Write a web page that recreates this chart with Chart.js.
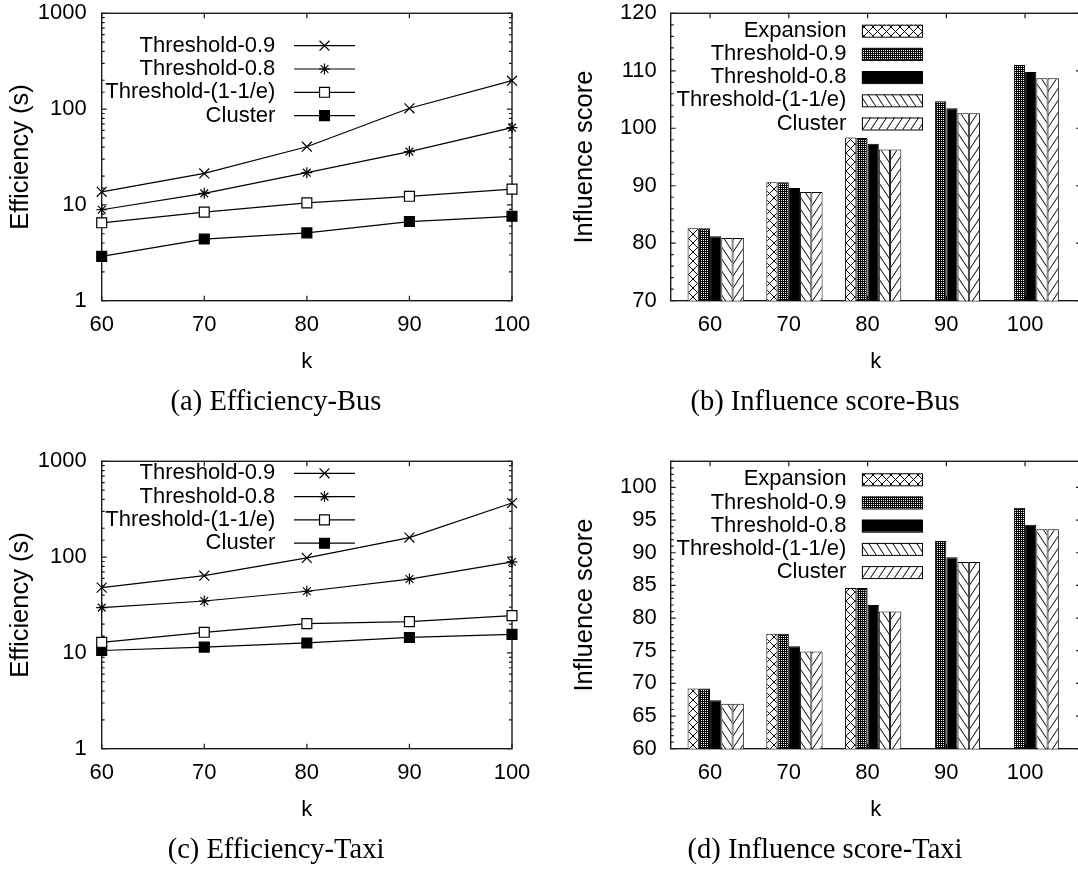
<!DOCTYPE html>
<html>
<head>
<meta charset="utf-8">
<title>Efficiency and influence score</title>
<script src="https://cdn.jsdelivr.net/npm/chart.js@4.4.1/dist/chart.umd.min.js"></script>
<style>
  html, body { margin: 0; padding: 0; background: #fff; overflow: hidden; }
  body { width: 1078px; height: 871px; position: relative; }
  .panel { position: absolute; width: 552px; height: 430px; }
  .panel canvas { display: block; }
  #pa { left: 0; top: 0; }
  #pb { left: 549px; top: 0; }
  #pc { left: 0; top: 448px; }
  #pd { left: 549px; top: 448px; }
</style>
</head>
<body>
<div class="panel" id="pa"><canvas id="effBus" width="552" height="430"></canvas></div>
<div class="panel" id="pb"><canvas id="infBus" width="552" height="430"></canvas></div>
<div class="panel" id="pc"><canvas id="effTaxi" width="552" height="430"></canvas></div>
<div class="panel" id="pd"><canvas id="infTaxi" width="552" height="430"></canvas></div>
<script>
// ---------- data ----------
const kValues = [60, 70, 80, 90, 100]

const lineSeries = ['Threshold-0.9', 'Threshold-0.8', 'Threshold-(1-1/e)', 'Cluster']
const barSeries = ['Expansion', 'Threshold-0.9', 'Threshold-0.8', 'Threshold-(1-1/e)', 'Cluster']

// running time in seconds, Bus
const busT09 = [13.7, 21.3, 40.5, 102, 198]
const busT08 = [8.9, 13.2, 21.7, 36, 64]
const busTe = [6.5, 8.4, 10.5, 12.3, 14.6]
const busCluster = [2.9, 4.4, 5.1, 6.7, 7.6]

// running time in seconds, Taxi
const taxiT09 = [48, 64, 98, 160, 367]
const taxiT08 = [29.7, 34.8, 44, 59, 89]
const taxiTe = [12.9, 16.4, 20.2, 21.2, 24.5]
const taxiCluster = [10.6, 11.5, 12.7, 14.5, 15.6]

// influence score, Bus (Expansion gives no result for k = 90, 100)
const busInfExp = [82.6, 90.6, 98.4, null, null]
const busInfT09 = [82.6, 90.6, 98.3, 104.7, 111.0]
const busInfT08 = [81.2, 89.6, 97.3, 103.5, 109.8]
const busInfTe = [80.9, 88.9, 96.3, 102.6, 108.7]
const busInfCluster = [80.9, 88.9, 96.3, 102.6, 108.7]

// influence score, Taxi
const taxiInfExp = [69.2, 77.6, 84.6, null, null]
const taxiInfT09 = [69.2, 77.6, 84.6, 91.8, 96.9]
const taxiInfT08 = [67.4, 75.7, 82.0, 89.3, 94.3]
const taxiInfTe = [66.9, 74.9, 81.0, 88.6, 93.6]
const taxiInfCluster = [66.9, 74.9, 81.0, 88.6, 93.6]

// labelled ticks
const effTicks = [1, 10, 100, 1000]
const busInfTicks = [70, 80, 90, 100, 110, 120]
const taxiInfTicks = [60, 65, 70, 75, 80, 85, 90, 95, 100]

// ---------- styling ----------
Chart.defaults.font.family = '"Liberation Sans", Arial, sans-serif'
Chart.defaults.font.size = 22
Chart.defaults.color = '#000'

const SANS = { family: '"Liberation Sans", Arial, sans-serif', size: 22 }
const TICK = { family: '"Liberation Sans", Arial, sans-serif', size: 22, lineHeight: 1.1 }
const YTITLE = { family: '"Liberation Sans", Arial, sans-serif', size: 25.5 }
const SERIF = '28.5px "Liberation Serif", "Times New Roman", serif'

// hatch fills, gnuplot style
function hatch(w, h, draw) {
  const c = document.createElement('canvas')
  c.width = w; c.height = h
  const g = c.getContext('2d')
  g.fillStyle = '#fff'; g.fillRect(0, 0, w, h)
  g.strokeStyle = '#000'; g.fillStyle = '#000'; g.lineWidth = 1
  draw(g, w, h)
  return g.createPattern(c, 'repeat')
}
const back = (g, w, h) => { for (const dx of [-w, 0, w]) { g.beginPath(); g.moveTo(dx, 0); g.lineTo(dx + w, h); g.stroke() } }
const fwd = (g, w, h) => { for (const dx of [-w, 0, w]) { g.beginPath(); g.moveTo(dx, h); g.lineTo(dx + w, 0); g.stroke() } }

const barFills = [
  hatch(9, 9, (g, w, h) => { back(g, w, h); fwd(g, w, h) }),               // crosshatch
  hatch(2, 2, (g) => { g.fillRect(0, 0, 2, 2); g.clearRect(0, 0, 1, 1) }),  // fine crosshatch
  '#000',
  hatch(8, 12, back),
  hatch(8, 12, fwd),
]

const pointStyles = [
  { style: 'crossRot', r: 7, fill: '#000' },
  { style: 'star', r: 5.5, fill: '#000' },
  { style: 'rect', r: 7, fill: '#fff' },
  { style: 'rect', r: 7, fill: '#000' },
]

// border box with inward ticks on all four sides, plus key and caption
const gnuFrame = {
  id: 'gnuFrame',
  beforeDatasetsDraw(chart) {
    const { ctx, chartArea: a, scales: { x, y } } = chart
    ctx.save()
    ctx.strokeStyle = '#1a1a1a'
    ctx.lineWidth = 1.2
    ctx.beginPath()
    y.ticks.forEach(t => {
      const py = y.getPixelForValue(t.value)
      const len = t.label ? 5 : 3
      ctx.moveTo(a.left, py); ctx.lineTo(a.left + len, py)
      ctx.moveTo(a.right, py); ctx.lineTo(a.right - len, py)
    })
    x.ticks.forEach(t => {
      const px = x.getPixelForValue(t.value)
      ctx.moveTo(px, a.bottom); ctx.lineTo(px, a.bottom - 5)
      ctx.moveTo(px, a.top); ctx.lineTo(px, a.top + 5)
    })
    ctx.stroke()
    ctx.lineWidth = 1.4
    ctx.strokeRect(a.left, a.top, a.right - a.left, a.bottom - a.top)
    ctx.restore()
  },
  afterDraw(chart, args, opts) {
    const { ctx } = chart
    ctx.save()
    ctx.font = '22px "Liberation Sans", Arial, sans-serif'
    ctx.textBaseline = 'middle'
    ctx.fillStyle = '#000'
    ctx.strokeStyle = '#000'
    const sets = chart.data.datasets.filter(d => d.label)
    sets.forEach((d, i) => {
      const yy = opts.top + i * opts.step
      ctx.textAlign = 'right'
      ctx.fillText(d.label, opts.textRight, yy)
      if (opts.kind === 'line') {
        ctx.lineWidth = 1.2
        ctx.beginPath(); ctx.moveTo(opts.x0, yy); ctx.lineTo(opts.x1, yy); ctx.stroke()
        ctx.fillStyle = d.pointBackgroundColor
        Chart.helpers.drawPoint(ctx, { pointStyle: d.pointStyle, radius: d.pointRadius, rotation: 0, borderWidth: 1.2 }, (opts.x0 + opts.x1) / 2, yy)
        ctx.fillStyle = '#000'
      } else {
        ctx.fillStyle = d.backgroundColor
        ctx.fillRect(opts.x0, yy - 6, opts.x1 - opts.x0, 12)
        ctx.lineWidth = 1
        ctx.strokeRect(opts.x0 + 0.5, yy - 6 + 0.5, opts.x1 - opts.x0, 12)
        ctx.fillStyle = '#000'
      }
    })
    // sub-figure caption
    ctx.font = SERIF
    ctx.textAlign = 'center'
    ctx.fillText(opts.caption, chart.width / 2, opts.captionY)
    ctx.restore()
  },
}

// tick marks are drawn by gnuFrame; tickLength here only spaces the labels off the axis
const yGrid = gap => ({ display: false, drawTicks: true, tickLength: gap })
const xGrid = { display: false, drawTicks: false, offset: false }

function effChart(id, series, caption, keyTop) {
  return new Chart(document.getElementById(id), {
    type: 'line',
    plugins: [gnuFrame],
    data: {
      datasets: series.map((vals, i) => ({
        label: lineSeries[i],
        data: kValues.map((k, j) => ({ x: k, y: vals[j] })),
        borderColor: '#000',
        borderWidth: 1.2,
        pointStyle: pointStyles[i].style,
        pointRadius: pointStyles[i].r,
        pointBackgroundColor: pointStyles[i].fill,
        pointBorderColor: '#000',
        pointBorderWidth: 1.2,
        tension: 0,
        clip: false,
      })),
    },
    options: {
      responsive: false,
      animation: false,
      events: [],
      layout: { padding: { top: 13.3, right: 40, bottom: 43.6, left: 0 } },
      plugins: {
        legend: { display: false },
        tooltip: { enabled: false },
        gnuFrame: { kind: 'line', textRight: 275.3, x0: 294, x1: 355, top: keyTop, step: 23.3, caption, captionY: 403 },
      },
      scales: {
        x: {
          type: 'linear', min: 60, max: 100,
          ticks: { stepSize: 10, padding: 12, font: TICK },
          grid: xGrid, border: { display: false },
          title: { display: true, text: 'k', font: SANS, padding: { top: 0, bottom: 11 } },
          afterFit: s => { s.height = 85.7 },
        },
        y: {
          type: 'logarithmic', min: 1, max: 1000,
          ticks: {
            autoSkip: false, padding: 0, font: TICK,
            callback: v => effTicks.some(t => Math.abs(t - v) < 1e-9) ? String(v) : '',
          },
          grid: yGrid(15), border: { display: false },
          title: { display: true, text: 'Efficiency (s)', font: YTITLE, padding: { top: 6, bottom: 0 } },
          afterFit: s => { s.width = 101.7 },
        },
      },
    },
  })
}

function infChart(id, series, caption, yMin, yMax, minorStep, labelTicks, keyTop) {
  const datasets = [
    // empty leading slot so each k tick falls between the 2nd and 3rd bar
    { label: '', data: kValues.map(k => ({ x: k, y: null })) },
    ...series.map((vals, i) => ({
      label: barSeries[i],
      data: kValues.map((k, j) => ({ x: k, y: vals[j] })),
      backgroundColor: barFills[i],
      borderColor: '#000',
      borderWidth: 1,
      borderSkipped: false,
    })),
  ]
  return new Chart(document.getElementById(id), {
    type: 'bar',
    plugins: [gnuFrame],
    data: { datasets },
    options: {
      responsive: false,
      animation: false,
      events: [],
      datasets: { bar: { categoryPercentage: 6 / 7, barPercentage: 1 } },
      layout: { padding: { top: 13.3, right: 20, bottom: 43.6, left: 0 } },
      plugins: {
        legend: { display: false },
        tooltip: { enabled: false },
        gnuFrame: { kind: 'bar', textRight: 297.4, x0: 312.9, x1: 373, top: keyTop, step: 23.2, caption, captionY: 403 },
      },
      scales: {
        x: {
          type: 'linear', min: 55, max: 107.1, offset: false,
          afterBuildTicks: s => { s.ticks = kValues.map(v => ({ value: v })) },
          ticks: { padding: 12, font: TICK, callback: v => String(v) },
          grid: xGrid, border: { display: false },
          title: { display: true, text: 'k', font: SANS, padding: { top: 0, bottom: 11 } },
          afterFit: s => { s.height = 85.7 },
        },
        y: {
          min: yMin, max: yMax, beginAtZero: false,
          ticks: {
            stepSize: minorStep, autoSkip: false, padding: 0, font: TICK,
            callback: v => labelTicks.includes(v) ? String(v) : '',
          },
          grid: yGrid(14), border: { display: false },
          title: { display: true, text: 'Influence score', font: YTITLE, padding: { top: 20.5, bottom: 0 } },
          afterFit: s => { s.width = 121.7 },
        },
      },
    },
  })
}

effChart('effBus', [busT09, busT08, busTe, busCluster], '(a) Efficiency-Bus', 45.7)
infChart('infBus', [busInfExp, busInfT09, busInfT08, busInfTe, busInfCluster], '(b) Influence score-Bus', 70, 120, 2, busInfTicks, 30.7)
effChart('effTaxi', [taxiT09, taxiT08, taxiTe, taxiCluster], '(c) Efficiency-Taxi', 25.3)
infChart('infTaxi', [taxiInfExp, taxiInfT09, taxiInfT08, taxiInfTe, taxiInfCluster], '(d) Influence score-Taxi', 60, 104, 1, taxiInfTicks, 31.3)
</script>
</body>
</html>
